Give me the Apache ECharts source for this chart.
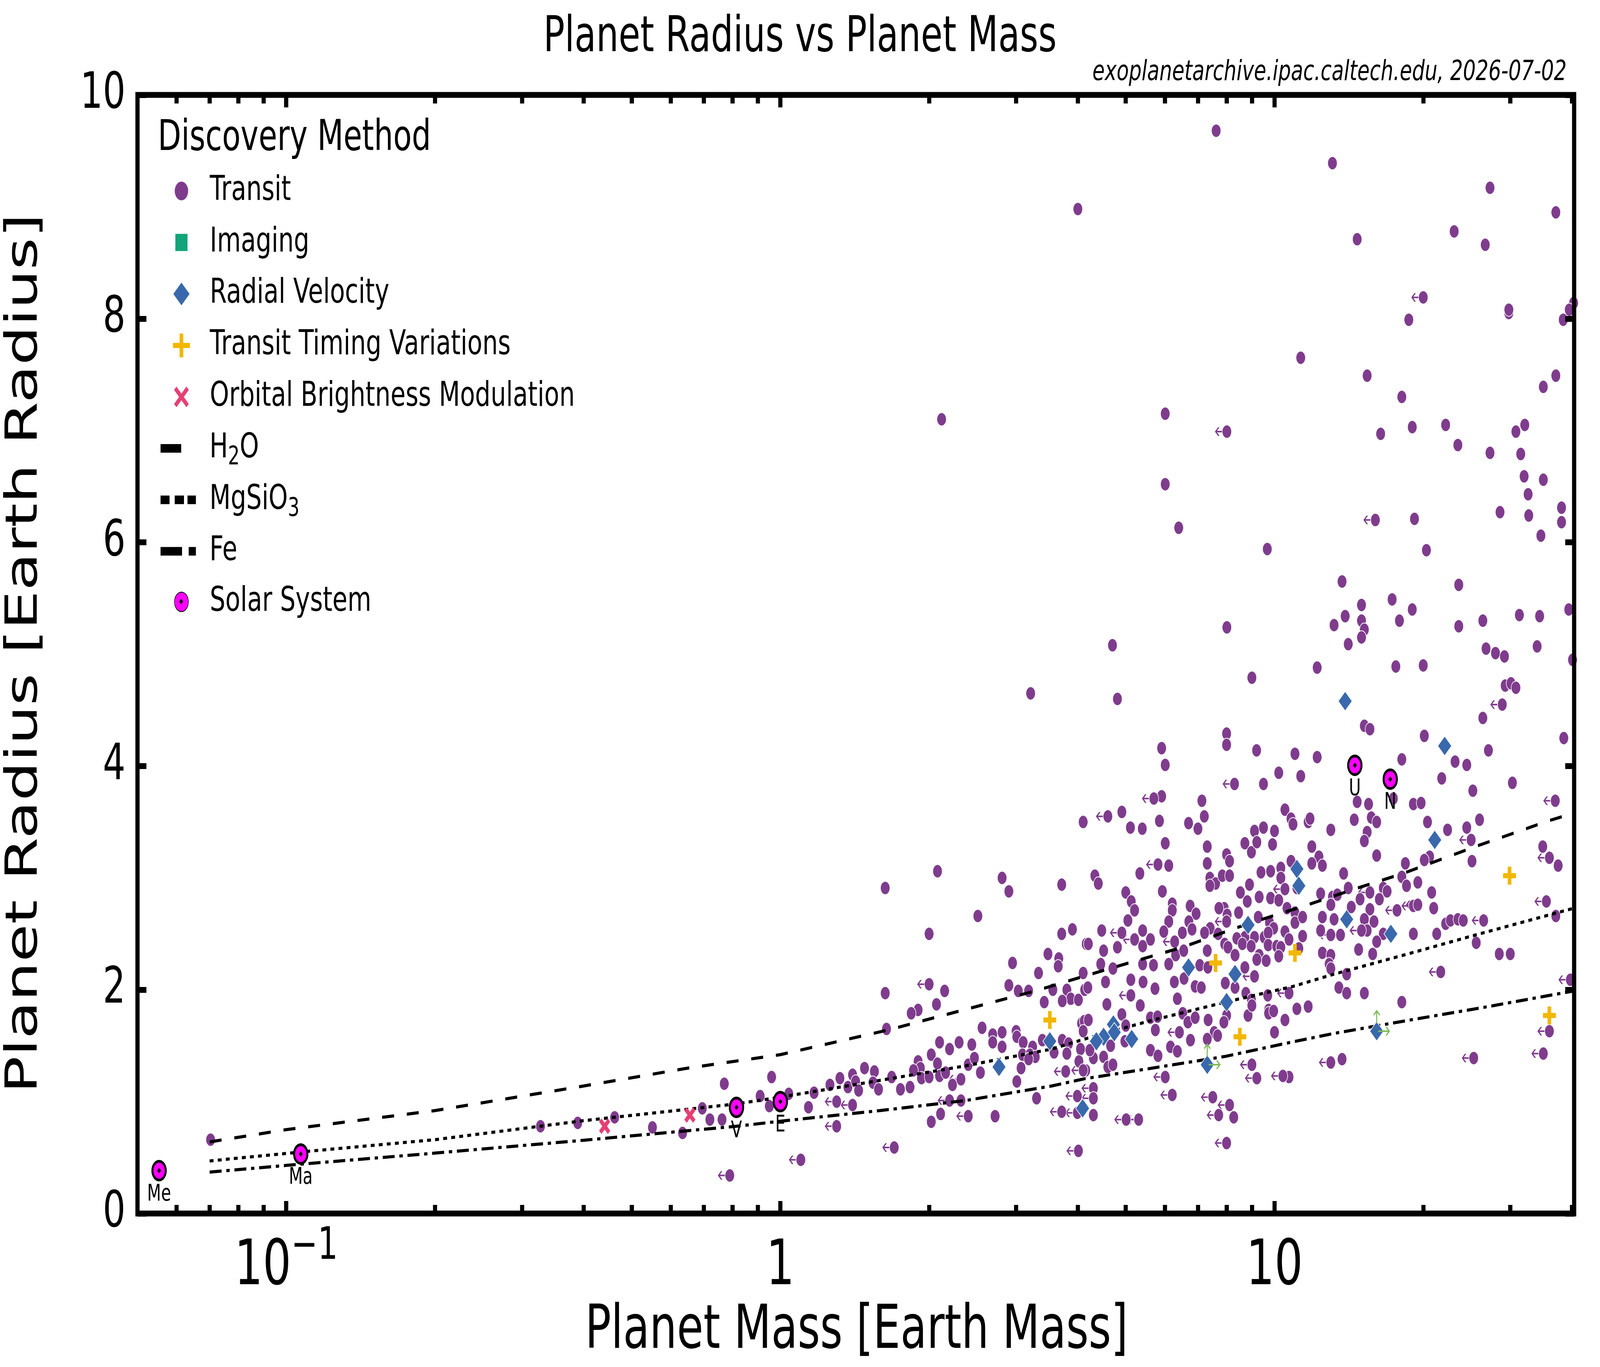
<!DOCTYPE html>
<html><head><meta charset="utf-8">
<script src="https://cdn.jsdelivr.net/npm/echarts@6/dist/echarts.min.js"></script>
<style>html,body{margin:0;padding:0;background:#fff;overflow:hidden}
#c{width:5750px;height:3500px;transform-origin:0 0;position:absolute;left:0;top:0}</style>
</head><body><div id="c"></div>
<script>
// ---------------- data (mass [Earth masses], radius [Earth radii]) ----------------
const transitPoints = [
[4.10,3.50],[1.63,2.91],[2.08,3.06],[2.81,3.00],[2.90,2.88],[3.71,2.94],[2.51,2.66],[2.00,2.50],[3.71,2.50],[3.90,2.54],
[4.16,2.41],[3.48,2.32],[3.66,2.28],[3.65,2.21],[2.95,2.24],[3.33,2.15],[4.10,2.15],[2.15,1.99],[1.63,1.97],[2.90,2.04],
[3.03,1.99],[3.18,1.99],[3.56,2.00],[3.80,2.00],[3.87,1.92],[4.01,1.91],[3.72,1.90],[3.42,1.89],[4.13,2.00],[2.07,1.87],
[1.90,1.82],[1.84,1.79],[1.64,1.65],[2.56,1.66],[2.69,1.60],[2.81,1.62],[3.00,1.63],[3.01,1.58],[4.07,1.70],[4.12,1.72],
[4.10,1.63],[2.10,1.53],[2.20,1.47],[2.30,1.53],[2.44,1.51],[2.69,1.53],[2.81,1.49],[3.10,1.53],[3.24,1.49],[3.39,1.55],
[3.72,1.55],[3.83,1.52],[4.05,1.47],[2.02,1.42],[2.08,1.34],[1.90,1.36],[1.92,1.30],[1.86,1.28],[2.40,1.33],[2.47,1.39],
[2.54,1.26],[3.09,1.42],[3.20,1.42],[3.28,1.40],[3.18,1.38],[3.07,1.30],[3.58,1.44],[3.80,1.43],[4.02,1.36],[1.48,1.30],
[1.55,1.27],[1.40,1.24],[1.32,1.21],[1.26,1.15],[1.37,1.13],[1.42,1.18],[1.44,1.10],[1.54,1.17],[1.58,1.11],[1.68,1.22],
[1.75,1.11],[1.83,1.13],[1.93,1.21],[2.00,1.22],[2.10,1.23],[2.16,1.26],[2.23,1.15],[3.01,1.18],[0.96,1.22],[0.91,1.05],
[0.95,0.96],[1.04,1.07],[1.17,1.08],[1.14,0.95],[2.32,1.01],[2.11,0.89],[2.02,0.82],[2.72,0.87],[3.30,1.03],
[0.0703,0.66],[0.327,0.78],[0.389,0.81],[0.462,0.86],[0.551,0.77],[0.634,0.72],[0.695,0.94],[0.72,0.84],[0.762,0.84],[0.77,1.16],
[12.2,4.88],[9.0,4.79],[4.81,4.60],[8.0,4.29],[8.0,4.19],[5.91,4.16],[6.01,4.01],[9.2,4.14],[11.0,4.11],[12.2,4.08],
[10.2,3.94],[11.3,3.91],[9.5,3.84],[5.91,3.73],[7.13,3.69],[7.21,3.55],[6.70,3.49],[7.00,3.44],[4.91,3.59],[5.11,3.45],
[5.40,3.44],[5.85,3.51],[6.01,3.31],[6.11,3.11],[5.34,3.04],[4.33,3.02],[4.40,2.95],[5.93,2.88],[5.00,2.87],[5.13,2.79],
[5.21,2.71],[5.05,2.62],[4.47,2.53],[4.20,2.41],[5.41,2.53],[5.61,2.45],[5.41,2.39],[4.81,2.38],[4.51,2.35],[4.45,2.23],
[4.71,2.19],[4.55,2.07],[4.19,2.02],[5.41,2.23],[5.69,2.22],[5.12,2.09],[5.42,2.07],[5.73,2.01],[4.58,1.87],[5.35,1.86],
[6.21,2.77],[6.21,2.71],[6.11,2.61],[5.97,2.52],[6.31,2.31],[6.11,2.23],[6.27,2.07],[6.36,1.92],[6.75,2.75],[6.94,2.68],
[6.71,2.61],[6.81,2.54],[6.51,2.51],[6.55,2.35],[7.06,2.22],[7.33,2.20],[6.91,2.03],[7.11,2.02],[6.56,2.10],[7.31,3.28],
[7.31,3.13],[8.00,3.21],[8.11,3.15],[7.40,3.00],[7.60,2.95],[7.84,3.02],[8.11,3.02],[7.40,2.93],[8.71,3.31],[8.98,3.23],
[9.11,3.42],[9.21,3.32],[9.50,3.45],[10.0,3.42],[9.91,3.30],[10.5,3.61],[10.8,3.53],[10.9,3.48],[11.7,3.50],[11.8,3.53],
[13.0,3.43],[11.9,3.28],[12.3,3.19],[11.9,3.13],[12.5,3.11],[9.39,3.05],[9.82,3.06],[10.3,3.09],[10.8,3.15],[10.3,3.00],
[8.90,2.94],[11.1,2.91],[8.53,2.87],[8.81,2.79],[9.31,2.83],[9.82,2.82],[10.2,2.80],[7.91,2.73],[8.46,2.69],[10.6,2.73],
[11.0,2.69],[12.4,2.86],[12.5,2.65],[13.1,2.83],[13.0,2.76],[13.2,2.63],[12.4,2.53],[12.5,2.33],[13.0,2.31],[12.9,2.23],
[9.27,2.65],[9.77,2.60],[9.96,2.55],[9.53,2.47],[9.71,2.51],[9.71,2.40],[9.11,2.47],[8.71,2.47],[8.39,2.46],[8.61,2.41],
[8.97,2.39],[9.31,2.31],[9.62,2.26],[10.1,2.39],[10.5,2.52],[10.3,2.38],[10.2,2.30],[10.7,2.45],[11.0,2.60],[11.4,2.65],
[11.4,2.48],[11.2,2.37],[9.21,2.27],[8.02,2.67],[7.72,2.73],[7.41,2.55],[7.22,2.51],[7.69,2.50],[7.93,2.41],[8.05,2.38],
[8.32,2.31],[7.31,2.35],[8.71,2.20],[7.95,2.06],[8.32,2.02],[8.75,1.97],[8.98,1.91],[9.69,1.95],[11.1,1.83],[11.7,1.85],
[9.73,1.82],[13.0,2.19],
[4.20,1.73],[4.91,1.78],[5.00,1.68],[4.98,1.54],[4.66,1.50],[4.30,1.39],[4.51,1.40],[4.60,1.31],[4.71,1.33],[4.15,1.28],
[4.23,1.46],[4.30,0.88],[5.74,1.64],[5.61,1.75],[5.80,1.76],[5.61,1.46],[5.81,1.41],[6.16,1.49],[6.36,1.45],[6.52,1.79],
[6.68,1.71],[6.91,1.75],[6.76,1.55],[7.34,1.73],[7.55,1.62],[7.67,1.59],[7.31,1.56],[8.00,1.77],[7.90,1.71],[8.84,1.77],
[9.00,1.86],[9.73,1.79],[9.96,1.81],[10.5,1.73],[10.0,1.62],[10.7,1.22],[8.27,0.86],[13.7,1.38],
[17.6,4.89],[20.0,4.90],[15.2,4.36],[15.6,4.33],[29.3,4.72],[30.1,4.74],[30.8,4.70],[26.4,4.43],[38.5,4.25],[20.1,4.27],
[27.1,4.14],[18.1,4.06],[23.2,4.04],[24.5,4.01],[21.8,3.89],[30.3,3.85],[25.2,3.78],[17.4,3.71],[14.7,3.68],[15.5,3.66],
[19.1,3.66],[19.8,3.67],[14.5,3.52],[15.7,3.54],[16.1,3.50],[15.4,3.41],[15.2,3.33],[20.4,3.50],[22.4,3.43],[26.0,3.52],
[24.5,3.45],[16.1,3.20],[20.6,3.19],[20.1,3.16],[18.4,3.13],[25.1,3.15],[34.9,3.28],[37.5,3.11],[13.8,3.04],[18.1,3.01],
[18.5,2.93],[19.5,2.96],[14.1,2.91],[13.4,2.85],[16.6,2.91],[16.9,2.88],[14.9,2.81],[16.3,2.81],[14.3,2.74],[15.6,2.72],
[15.9,2.61],[15.2,2.63],[15.4,2.53],[13.6,2.49],[16.6,2.50],[16.1,2.43],[14.8,2.36],[15.8,2.32],[20.8,2.87],[21.0,2.73],
[19.1,2.50],[21.3,2.50],[22.2,2.59],[22.7,2.62],[23.5,2.63],[24.1,2.62],[37.1,2.66],[25.6,2.42],[28.5,2.32],[30.0,2.32],
[14.0,2.14],[13.5,2.02],[14.0,1.97],[15.2,1.97],[18.1,1.89],
[7.62,9.68],[13.1,9.39],[4.00,8.98],[27.3,9.17],[37.1,8.95],[14.7,8.71],[23.1,8.78],[26.7,8.66],[18.7,7.99],[29.8,8.05],
[29.8,8.08],[38.4,7.99],[40.3,8.14],[39.5,8.08],[11.3,7.65],[15.4,7.49],[18.1,7.30],[37.1,7.49],[35.0,7.39],[6.01,7.15],
[16.4,6.97],[19.0,7.03],[22.2,7.05],[23.5,6.87],[30.8,6.99],[32.1,7.05],[27.3,6.80],[31.5,6.79],[32.0,6.59],[35.0,6.56],
[32.6,6.43],[28.6,6.27],[32.7,6.24],[38.1,6.31],[38.1,6.18],[34.6,6.06],[6.01,6.52],[6.40,6.13],[19.2,6.21],[20.3,5.93],
[9.67,5.94],[13.7,5.65],[23.6,5.62],[39.4,5.40],[17.3,5.49],[19.0,5.40],[13.9,5.34],[15.0,5.44],[15.0,5.30],[15.2,5.22],
[17.9,5.30],[23.6,5.25],[26.4,5.30],[31.3,5.35],[34.4,5.34],[13.2,5.26],[14.1,5.09],[15.0,5.15],[26.8,5.05],[28.0,5.01],
[29.2,4.98],[34.0,5.07],[40.1,4.95],[8.01,5.24],[4.70,5.08],[2.12,7.10],[3.21,4.65]
];
// transit planets whose mass is an upper limit (drawn with a left arrow)
const transitUpperLimit = [
[2.00,2.05],[3.78,1.27],[4.10,1.28],[2.32,1.20],[3.99,1.05],[3.71,0.91],[3.99,0.90],[1.30,1.00],[1.40,0.97],[1.30,0.78],
[2.20,1.01],[2.40,0.87],[1.70,0.59],[1.10,0.48],[4.01,0.56],[0.79,0.34],
[8.3,3.84],[5.70,3.71],[4.60,3.55],[5.81,3.12],[4.91,2.51],[5.21,2.45],[6.28,2.43],[8.00,2.61],[10.5,2.90],[13.0,2.49],
[9.11,2.12],[10.7,1.97],[5.12,1.95],
[4.30,1.12],[4.30,1.03],[5.01,0.84],[5.31,0.84],[6.01,1.22],[6.21,1.06],[6.42,1.62],[9.00,1.33],[9.21,1.21],[10.4,1.23],
[7.50,1.04],[8.11,0.97],[7.71,0.88],[8.00,0.63],[13.0,1.35],
[28.9,4.55],[37.0,3.69],[25.0,3.34],[36.0,3.18],[15.6,2.87],[15.0,2.53],[17.7,2.71],[19.1,2.75],[19.5,2.76],[26.5,2.62],
[35.5,2.79],[21.7,2.16],[39.7,2.09],[36.0,1.63],[35.0,1.43],[25.3,1.39],
[20.0,8.19],[8.01,6.99],[16.0,6.20]
];
const imagingPoints = [];
const rvPoints = [
[3.51,1.54],[2.77,1.31],[4.09,0.94],[6.70,2.20],[8.84,2.58],[11.1,3.08],[11.2,2.93],[8.32,2.14],[8.00,1.89],[4.72,1.69],
[4.74,1.62],[4.51,1.58],[4.36,1.54],[5.14,1.56],[7.31,1.33],[13.9,4.58],[22.1,4.18],[21.1,3.34],[14.0,2.63],[17.2,2.50],
[16.1,1.63]
];
// radial-velocity planets with lower limits (green arrows)
const rvLimitPoints = [[7.31,1.33],[16.1,1.63]];
const ttvPoints = [[3.51,1.73],[7.60,2.24],[11.0,2.33],[8.51,1.58],[29.9,3.02],[36.0,1.77]];
const obmPoints = [[0.441,0.78],[0.656,0.88]];
const solarSystem = [[0.0553,0.383,'Me'],[0.107,0.532,'Ma'],[0.815,0.949,'V'],[1.0,1.0,'E'],[14.54,4.007,'U'],[17.15,3.883,'N']];
// composition curves
const h2oCurve = [[0.07,0.64],[0.1,0.75],[0.2,0.92],[0.4,1.14],[0.65,1.30],[1,1.42],[1.65,1.64],[3.28,1.99],[4.64,2.19],
  [6.51,2.38],[8.7,2.58],[11.5,2.75],[14.5,2.90],[18.2,3.04],[25.5,3.28],[35.8,3.51],[40.4,3.58]];
const mgsio3Curve = [[0.07,0.47],[0.107,0.55],[0.2,0.66],[0.4,0.83],[0.815,0.98],[1,1.04],[1.59,1.19],[2.37,1.32],[3.54,1.47],
  [4.13,1.56],[5.57,1.72],[7.96,1.89],[10.9,2.03],[13.2,2.14],[18.6,2.32],[26.0,2.50],[40.4,2.73]];
const feCurve = [[0.07,0.37],[0.1,0.43],[0.2,0.54],[0.4,0.655],[0.815,0.78],[1,0.825],[1.59,0.92],[2.37,1.01],[3.54,1.14],
  [4.13,1.205],[5.57,1.295],[7.96,1.405],[10.9,1.535],[13.2,1.61],[18.6,1.726],[26.0,1.836],[40.4,1.99]];
// axes
const xMajorTicks = [0.1, 1, 10];
const xMinorTicks = [0.06,0.07,0.08,0.09,0.2,0.3,0.4,0.5,0.6,0.7,0.8,0.9,2,3,4,5,6,7,8,9,20,30,40];
const yTickInterval = 2;

// ---------------- page fit: the chart is laid out at 5750x3500 and fitted into the window ----------------
const W = 5750, H = 3500;
const el = document.getElementById('c');
const sx = Math.min(1, window.innerWidth / W), sy = Math.min(1, window.innerHeight / H);
el.style.transform = 'scale(' + sx + ',' + sy + ')';

// ---------------- chart ----------------
const FONT = 'DejaVu Sans';
const chart = echarts.init(el, null, {renderer:'canvas', width:W, height:H});

const arrowLeft = 'path://M0,11 L11,0 L16.6,0 L7.6,9 L43,9 L43,13 L7.6,13 L16.6,22 L11,22 Z';
const arrowRight = 'path://M43,11 L32,0 L26.4,0 L35.4,9 L0,9 L0,13 L35.4,13 L26.4,22 L32,22 Z';
const arrowUp = 'path://M11,0 L22,11 L22,16.6 L13,7.6 L13,35 L9,35 L9,7.6 L0,16.6 L0,11 Z';
const plusPath = 'path://M16.5,0 H29.5 V16.5 H46 V29.5 H29.5 V46 H16.5 V29.5 H0 V16.5 H16.5 Z';
const xPath = 'path://M0,8.5 L8.5,0 L20,11.5 L31.5,0 L40,8.5 L28.5,20 L40,31.5 L31.5,40 L20,28.5 L8.5,40 L0,31.5 L11.5,20 Z';

const anchorA = ' M0,0 L0.01,0 L0,0.01 Z M66,66 L65.99,66 L66,65.99 Z';
const legendIconsA = [
  'path://M8,33 A25,25 0 1 1 58,33 A25,25 0 1 1 8,33 Z' + anchorA,
  'path://M10,10 H56 V56 H10 Z' + anchorA,
  'path://M33,2.5 L63.5,33 L33,63.5 L2.5,33 Z' + anchorA,
  'path://M26.5,2.5 H39.5 V26.5 H63.5 V39.5 H39.5 V63.5 H26.5 V39.5 H2.5 V26.5 H26.5 Z' + anchorA,
  'path://M6.5,15 L15,6.5 L33,24.5 L51,6.5 L59.5,15 L41.5,33 L59.5,51 L51,59.5 L33,41.5 L15,59.5 L6.5,51 L24.5,33 Z' + anchorA
];
const legendIconsB = [
  'path://M0,0 H74 V22 H0 Z M127,22 L126.99,22 L127,21.99 Z',
  'path://M0,0 H32 V22 H0 Z M51,0 H84 V22 H51 Z M97,0 H127 V22 H97 Z',
  'path://M0,0 H77 V22 H0 Z M101,0 H127 V22 H101 Z'
];

const xBase = {type:'log', logBase:10, min:0.05, max:40.4, gridIndex:0, z:10,
  axisLine:{show:false}, splitLine:{show:false}, minorTick:{show:false}, minorSplitLine:{show:false}};
const tickStyle = {color:'#000', width:15};
const supFmt = v => {
  const e = Math.round(Math.log10(v));
  if (e < 0) return '10{sup|\u2212' + (-e) + '}';
  return String(Math.round(v));
};

const option = {
  animation:false,
  backgroundColor:'#fff',
  textStyle:{fontFamily:FONT},
  grid:{left:494, right:93, top:243, bottom:393, show:true, borderColor:'#000', borderWidth:15,
        backgroundColor:'transparent', z:10, containLabel:false},
  xAxis:[
    Object.assign({}, xBase, {position:'bottom',
      axisTick:{show:true, inside:true, length:32, lineStyle:tickStyle, customValues:xMajorTicks},
      axisLabel:{show:true, customValues:xMajorTicks, formatter:supFmt, margin:29, color:'#000',
        fontFamily:FONT, fontSize:160, lineHeight:220,
        rich:{sup:{fontFamily:FONT, fontSize:114, lineHeight:114, verticalAlign:'top', color:'#000'}}}}),
    Object.assign({}, xBase, {position:'bottom',
      axisTick:{show:true, inside:true, length:22, lineStyle:tickStyle, customValues:xMinorTicks},
      axisLabel:{show:false}}),
    Object.assign({}, xBase, {position:'top',
      axisTick:{show:true, inside:true, length:32, lineStyle:tickStyle, customValues:xMajorTicks},
      axisLabel:{show:false}}),
    Object.assign({}, xBase, {position:'top',
      axisTick:{show:true, inside:true, length:22, lineStyle:tickStyle, customValues:xMinorTicks},
      axisLabel:{show:false}})
  ],
  yAxis:[
    {type:'value', min:0, max:10, interval:yTickInterval, position:'left', z:10,
     axisLine:{show:false}, splitLine:{show:false},
     axisTick:{show:true, inside:true, length:32, lineStyle:tickStyle},
     axisLabel:{show:true, margin:43, color:'#000', fontFamily:FONT, fontSize:128}},
    {type:'value', min:0, max:10, interval:yTickInterval, position:'right', z:10,
     axisLine:{show:false}, splitLine:{show:false},
     axisTick:{show:true, inside:true, length:32, lineStyle:tickStyle},
     axisLabel:{show:false}}
  ],
  legend:[
    {orient:'vertical', left:618, top:445, padding:0, itemWidth:66, itemHeight:66, itemGap:43.8,
     selectedMode:false, symbolKeepAspect:true,
     data:['Transit','Imaging','Radial Velocity','Transit Timing Variations','Orbital Brightness Modulation']
       .map((n,i)=>({name:n, icon:legendIconsA[i]})),
     textStyle:{fontFamily:FONT, fontSize:88, color:'#000', padding:[0,0,0,64]}},
    {orient:'vertical', left:577, top:1091, padding:0, itemWidth:127, itemHeight:22, itemGap:17.8,
     selectedMode:false, symbolKeepAspect:true,
     data:['H2O','MgSiO3','Fe'].map((n,i)=>({name:n, icon:legendIconsB[i]})),
     formatter: n => ({'H2O':'H{sub|2}O','MgSiO3':'MgSiO{sub|3}','Fe':'Fe'})[n],
     textStyle:{fontFamily:FONT, fontSize:88, lineHeight:114, color:'#000', padding:[0,0,0,44],
       rich:{sub:{fontFamily:FONT, fontSize:66, lineHeight:66, verticalAlign:'bottom', color:'#000'}}}},
    {orient:'vertical', left:626, top:1497, padding:0, itemWidth:50, itemHeight:50,
     selectedMode:false, symbolKeepAspect:true,
     data:[{name:'Solar System', icon:'circle'}],
     textStyle:{fontFamily:FONT, fontSize:88, color:'#000', padding:[0,0,0,72]}}
  ],
  graphic:[
    {type:'text', x:2875, y:98, z:20, style:{text:'Planet Radius vs Planet Mass', fontFamily:FONT, fontSize:127,
      fill:'#000', align:'center', verticalAlign:'middle'}},
    {type:'text', x:5630, y:186, z:20, style:{text:'exoplanetarchive.ipac.caltech.edu, 2026-07-02', fontFamily:FONT,
      fontSize:72, fontStyle:'italic', fill:'#000', align:'right', verticalAlign:'middle'}},
    {type:'text', x:3078, y:3411, z:20, style:{text:'Planet Mass [Earth Mass]', fontFamily:FONT, fontSize:155,
      fill:'#000', align:'center', verticalAlign:'middle'}},
    {type:'text', x:91, y:1673, rotation:Math.PI/2, z:20, style:{text:'Planet Radius [Earth Radius]', fontFamily:FONT,
      fontSize:158, fill:'#000', align:'center', verticalAlign:'middle'}},
    {type:'text', x:567, y:356, z:20, style:{text:'Discovery Method', fontFamily:FONT, fontSize:109,
      fill:'#000', align:'left', verticalAlign:'middle'}},
    {type:'polygon', z:20, shape:{points:[[651,1533],[658,1540],[651,1547],[644,1540]]}, style:{fill:'#000'}}
  ],
  series:[
    {name:'Transit upper limit', type:'scatter', data:transitUpperLimit, symbol:arrowLeft, symbolSize:[43,22],
     symbolOffset:[-21.5,0], itemStyle:{color:'#7F3C8D', opacity:1}, z:1, silent:true},
    {name:'Transit', type:'scatter', data:transitPoints.concat(transitUpperLimit), symbol:'circle', symbolSize:34,
     itemStyle:{color:'#7F3C8D', borderColor:'#fff', borderWidth:2, opacity:1}, z:2, silent:true},
    {name:'Imaging', type:'scatter', data:imagingPoints, symbol:'rect', symbolSize:34,
     itemStyle:{color:'#11A579', borderColor:'#fff', borderWidth:2, opacity:1}, z:4, silent:true},
    {name:'H2O', type:'line', data:h2oCurve, symbol:'none', color:'#000', itemStyle:{color:'#000', borderWidth:0},
     lineStyle:{color:'#000', width:8, type:[43,46]}, z:3, silent:true},
    {name:'MgSiO3', type:'line', data:mgsio3Curve, symbol:'none', color:'#000', itemStyle:{color:'#000', borderWidth:0},
     lineStyle:{color:'#000', width:8, type:[14,15]}, z:3, silent:true},
    {name:'Fe', type:'line', data:feCurve, symbol:'none', color:'#000', itemStyle:{color:'#000', borderWidth:0},
     lineStyle:{color:'#000', width:8, type:[43,17,12,17]}, z:3, silent:true},
    {name:'Radial Velocity', type:'scatter', data:rvPoints, symbol:'diamond', symbolSize:50,
     itemStyle:{color:'#3969AC', borderColor:'#fff', borderWidth:2, opacity:1}, z:4, silent:true},
    {name:'RV limit up', type:'scatter', data:rvLimitPoints, symbol:arrowUp, symbolSize:[22,35],
     symbolOffset:[0,-37.5], itemStyle:{color:'#80BA5A', opacity:1}, z:5, silent:true},
    {name:'RV limit right', type:'scatter', data:rvLimitPoints, symbol:arrowRight, symbolSize:[43,22],
     symbolOffset:[26.5,0], itemStyle:{color:'#80BA5A', opacity:1}, z:5, silent:true},
    {name:'Transit Timing Variations', type:'scatter', data:ttvPoints, symbol:plusPath, symbolSize:46,
     itemStyle:{color:'#F2B701', opacity:1}, z:4, silent:true},
    {name:'Orbital Brightness Modulation', type:'scatter', data:obmPoints, symbol:xPath, symbolSize:40,
     itemStyle:{color:'#E73F74', opacity:1}, z:4, silent:true},
    {name:'Solar System', type:'scatter', data:solarSystem, symbol:'circle', symbolSize:48,
     itemStyle:{color:'#FF00FF', borderColor:'#000', borderWidth:7, opacity:1}, z:6, silent:true,
     label:{show:true, position:'bottom', distance:5, formatter:p=>p.value[2], color:'#000',
       fontFamily:FONT, fontSize:58, lineHeight:58}},
    {name:'Solar center', type:'scatter', data:solarSystem, symbol:'diamond', symbolSize:14,
     itemStyle:{color:'#000', opacity:1}, z:7, silent:true}
  ]
};
chart.setOption(option);
</script>
</body></html>
